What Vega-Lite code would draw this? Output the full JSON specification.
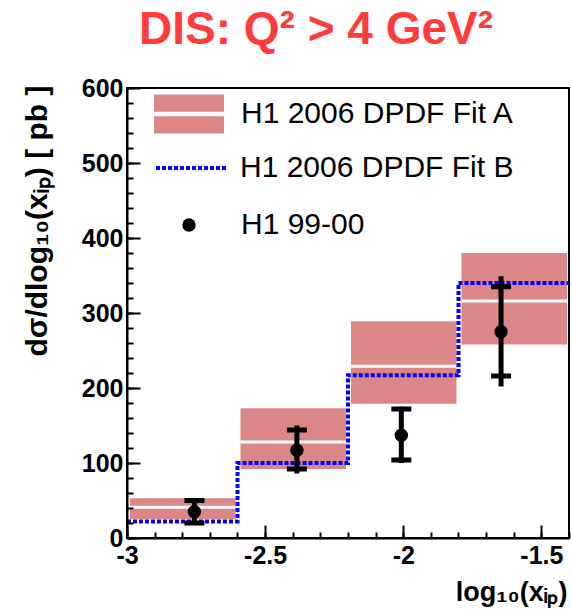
{
  "$schema": "https://vega.github.io/schema/vega-lite/v6.json",
  "width": 442,
  "height": 450,
  "autosize": {"type": "none"},
  "padding": {"left": 127, "top": 88, "right": 3, "bottom": 73},
  "background": "white",
  "config": {
    "view": {"stroke": "#000000", "strokeWidth": 2},
    "font": "Liberation Sans"
  },
  "title": {
    "text": "DIS: Q² > 4 GeV²",
    "font": "Liberation Sans",
    "fontSize": 46,
    "fontWeight": "bold",
    "color": "#ff3b3b",
    "anchor": "middle",
    "frame": "group",
    "baseline": "alphabetic",
    "offset": 39,
    "dx": -32,
    "dy": 53
  },
  "datasets": {
    "bins": [
      {"x1": -3.0, "x2": -2.6, "lo": 25, "hi": 53, "central": 41, "series": "H1 2006 DPDF Fit A"},
      {"x1": -2.6, "x2": -2.2, "lo": 92, "hi": 173, "central": 128, "series": "H1 2006 DPDF Fit A"},
      {"x1": -2.2, "x2": -1.8, "lo": 179, "hi": 289, "central": 229, "series": "H1 2006 DPDF Fit A"},
      {"x1": -1.8, "x2": -1.4, "lo": 258, "hi": 380, "central": 316, "series": "H1 2006 DPDF Fit A"}
    ],
    "fitB": [
      {"x": -3.0, "y": 22, "series": "H1 2006 DPDF Fit B"},
      {"x": -2.6, "y": 100, "series": "H1 2006 DPDF Fit B"},
      {"x": -2.2, "y": 217, "series": "H1 2006 DPDF Fit B"},
      {"x": -1.8, "y": 340, "series": "H1 2006 DPDF Fit B"},
      {"x": -1.4, "y": 340, "series": "H1 2006 DPDF Fit B"}
    ],
    "points": [
      {"x": -2.756, "y": 35, "lo": 20, "hi": 50, "capLo": 20, "capHi": 50, "series": "H1 99-00"},
      {"x": -2.385, "y": 117, "lo": 86, "hi": 150, "capLo": 92, "capHi": 144, "series": "H1 99-00"},
      {"x": -2.007, "y": 137, "lo": 100, "hi": 175, "capLo": 104, "capHi": 172, "series": "H1 99-00"},
      {"x": -1.646, "y": 275, "lo": 202, "hi": 349, "capLo": 216, "capHi": 335, "series": "H1 99-00"}
    ]
  },
  "resolve": {"axis": {"x": "independent", "y": "independent"}},
  "layer": [
    {
      "data": {"name": "bins"},
      "mark": {"type": "rect", "xOffset": 3, "x2Offset": -2},
      "encoding": {
        "x": {
          "field": "x1", "type": "quantitative",
          "scale": {"domain": [-3, -1.4], "nice": false, "zero": false},
          "axis": {
            "orient": "bottom",
            "values": [-3, -2.5, -2, -1.5],
            "labelExpr": "datum.value",
            "tickSize": -13, "tickWidth": 2, "tickColor": "#000",
            "domainColor": "#000", "domainWidth": 2,
            "labelFont": "Liberation Sans", "labelFontSize": 25, "labelFontWeight": "bold", "labelColor": "#000",
            "labelPadding": 18, "labelFlush": false, "labelOverlap": false,
            "grid": false, "zindex": 1,
            "title": "log₁₀(xᵢₚ)",
            "titleFont": "Liberation Sans", "titleFontSize": 27, "titleFontWeight": "bold", "titleColor": "#000",
            "titleX": 440, "titleY": 62, "titleAlign": "right", "titleBaseline": "alphabetic", "titleAnchor": null
          }
        },
        "x2": {"field": "x2"},
        "y": {
          "field": "lo", "type": "quantitative",
          "scale": {"domain": [0, 600], "nice": false, "zero": false},
          "axis": {
            "orient": "left",
            "values": [0, 100, 200, 300, 400, 500, 600],
            "tickSize": -13, "tickWidth": 2, "tickColor": "#000",
            "domainColor": "#000", "domainWidth": 2,
            "labelFont": "Liberation Sans", "labelFontSize": 25, "labelFontWeight": "bold", "labelColor": "#000",
            "labelPadding": 17, "labelFlush": false, "labelOverlap": false,
            "grid": false, "zindex": 1,
            "title": "dσ/dlog₁₀(xᵢₚ) [ pb ]",
            "titleFont": "Liberation Sans", "titleFontSize": 30, "titleFontWeight": "bold", "titleColor": "#000",
            "titleAngle": -90, "titleX": -90, "titleY": -3, "titleAlign": "right", "titleBaseline": "middle", "titleAnchor": null
          }
        },
        "y2": {"field": "hi"},
        "fill": {
          "field": "series", "type": "nominal",
          "scale": {"domain": ["H1 2006 DPDF Fit A"], "range": ["#db8787"]},
          "legend": {
            "orient": "none", "legendX": 42, "legendY": 6, "padding": 0, "title": null,
            "symbolType": "M-1.75,-0.975H1.75V-0.11H-1.75Z M-1.75,0.11H1.75V0.975H-1.75Z",
            "symbolSize": 1600, "symbolStrokeWidth": 0, "symbolOpacity": 1,
            "labelFont": "Liberation Sans", "labelFontSize": 30, "labelColor": "#000", "labelLimit": 400,
            "labelOffset": 32
          }
        }
      }
    },
    {
      "data": {"name": "bins"},
      "mark": {"type": "rule", "color": "#ffffff", "strokeWidth": 3, "xOffset": 3, "x2Offset": -2},
      "encoding": {
        "x": {
          "field": "x1", "type": "quantitative",
          "axis": {
            "orient": "bottom",
            "values": [-3, -2.9, -2.8, -2.7, -2.6, -2.5, -2.4, -2.3, -2.2, -2.1, -2, -1.9, -1.8, -1.7, -1.6, -1.5, -1.4],
            "tickSize": -6, "tickWidth": 2, "tickColor": "#000",
            "labels": false, "domain": false, "grid": false, "title": null, "zindex": 1
          }
        },
        "x2": {"field": "x2"},
        "y": {
          "field": "central", "type": "quantitative",
          "axis": {
            "orient": "left",
            "values": [0, 20, 40, 60, 80, 100, 120, 140, 160, 180, 200, 220, 240, 260, 280, 300, 320, 340, 360, 380, 400, 420, 440, 460, 480, 500, 520, 540, 560, 580, 600],
            "tickSize": -6, "tickWidth": 2, "tickColor": "#000",
            "labels": false, "domain": false, "grid": false, "title": null, "zindex": 1
          }
        }
      }
    },
    {
      "data": {"name": "fitB"},
      "mark": {"type": "line", "interpolate": "step-after", "strokeWidth": 4, "strokeDash": [4, 2]},
      "encoding": {
        "x": {"field": "x", "type": "quantitative", "axis": null},
        "y": {"field": "y", "type": "quantitative", "axis": null},
        "stroke": {
          "field": "series", "type": "nominal",
          "scale": {"domain": ["H1 2006 DPDF Fit B"], "range": ["#0000ff"]},
          "legend": {
            "orient": "none", "legendX": 42, "legendY": 58, "padding": 0, "title": null,
            "symbolType": "M-1.75,0H1.75",
            "symbolSize": 1600, "symbolStrokeWidth": 4, "symbolDash": [4, 2],
            "labelFont": "Liberation Sans", "labelFontSize": 30, "labelColor": "#000", "labelLimit": 400,
            "labelOffset": 27
          }
        }
      }
    },
    {
      "data": {"name": "points"},
      "mark": {"type": "rule", "color": "#000", "strokeWidth": 5},
      "encoding": {
        "x": {"field": "x", "type": "quantitative", "axis": null},
        "y": {"field": "lo", "type": "quantitative", "axis": null},
        "y2": {"field": "hi"}
      }
    },
    {
      "data": {"name": "points"},
      "mark": {"type": "tick", "orient": "horizontal", "color": "#000", "size": 20, "thickness": 5, "opacity": 1},
      "encoding": {
        "x": {"field": "x", "type": "quantitative", "axis": null},
        "y": {"field": "capLo", "type": "quantitative", "axis": null}
      }
    },
    {
      "data": {"name": "points"},
      "mark": {"type": "tick", "orient": "horizontal", "color": "#000", "size": 20, "thickness": 5, "opacity": 1},
      "encoding": {
        "x": {"field": "x", "type": "quantitative", "axis": null},
        "y": {"field": "capHi", "type": "quantitative", "axis": null}
      }
    },
    {
      "data": {"name": "points"},
      "mark": {"type": "point", "filled": true, "color": "#000", "size": 180, "opacity": 1},
      "encoding": {
        "x": {"field": "x", "type": "quantitative", "axis": null},
        "y": {"field": "y", "type": "quantitative", "axis": null},
        "shape": {
          "field": "series", "type": "nominal",
          "scale": {"domain": ["H1 99-00"], "range": ["circle"]},
          "legend": {
            "orient": "none", "legendX": 47, "legendY": 122, "padding": 0, "title": null,
            "symbolSize": 180, "symbolFillColor": "#000", "symbolStrokeWidth": 0, "symbolOpacity": 1,
            "labelFont": "Liberation Sans", "labelFontSize": 30, "labelColor": "#000", "labelLimit": 400,
            "labelOffset": 37
          }
        }
      }
    }
  ]
}
